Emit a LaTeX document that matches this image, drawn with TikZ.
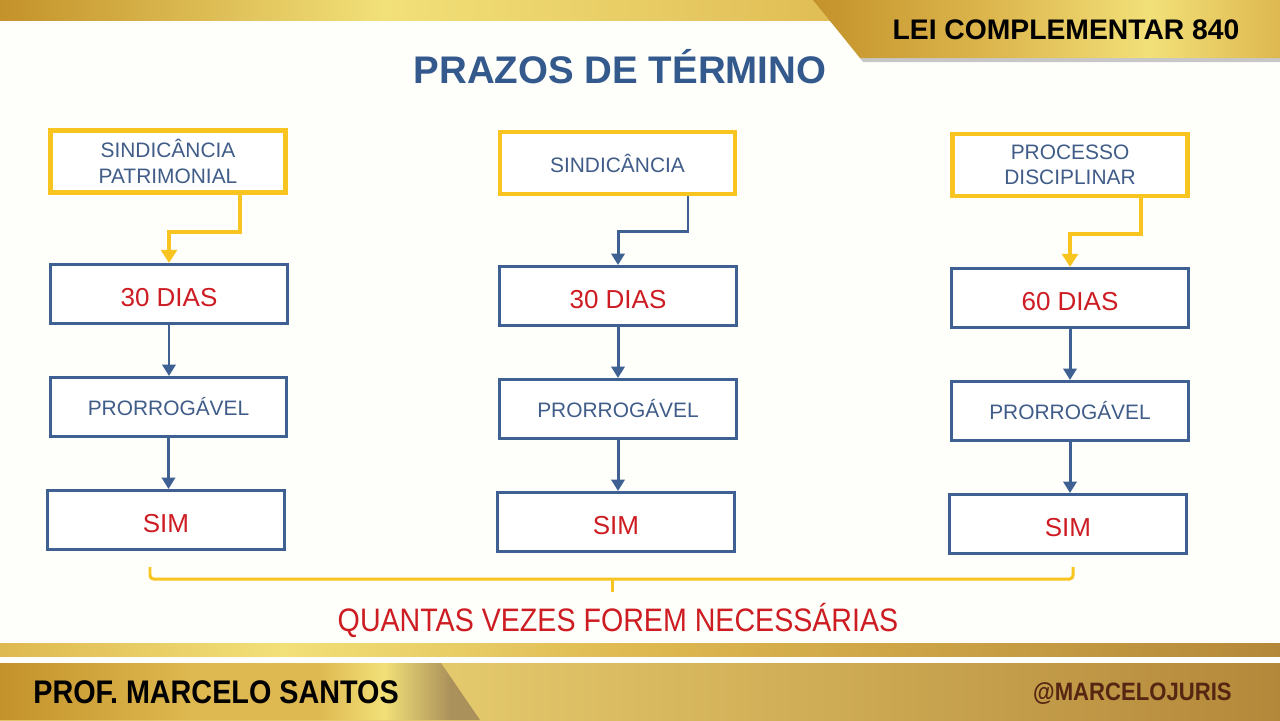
\documentclass[tikz,border=0pt]{standalone}
\usepackage{fontspec}
\setmainfont{Liberation Sans}
\newfontfamily\narrowsans[FakeStretch=0.88]{Liberation Sans}
\usetikzlibrary{arrows.meta,positioning}
\definecolor{boxblue}{RGB}{63,96,146}
\definecolor{textblue}{RGB}{64,92,136}
\definecolor{titleblue}{RGB}{52,89,140}
\definecolor{dayred}{RGB}{205,28,34}
\definecolor{linkyellow}{RGB}{248,196,32}
\definecolor{golddark}{RGB}{196,146,42}
\definecolor{goldmid}{RGB}{222,184,80}
\definecolor{goldlight}{RGB}{242,224,120}
\definecolor{goldpale}{RGB}{232,206,112}
\definecolor{goldbrown}{RGB}{180,136,58}
\definecolor{goldgrey}{RGB}{170,144,90}
\definecolor{handlebrown}{RGB}{85,38,18}
\definecolor{paper}{RGB}{254,254,251}

% gold shadings (path box maps to 25bp--75bp)
\pgfdeclarehorizontalshading{bandtop}{100bp}{color(0bp)=(golddark); color(25bp)=(golddark);
  color(40bp)=(goldlight); color(60bp)=(goldmid); color(75bp)=(golddark); color(100bp)=(golddark)}
\pgfdeclarehorizontalshading{bannertop}{100bp}{color(0bp)=(golddark); color(25bp)=(golddark);
  color(45bp)=(goldmid); color(61bp)=(goldlight); color(75bp)=(goldmid); color(100bp)=(goldmid)}
\pgfdeclarehorizontalshading{bandbottom}{100bp}{color(0bp)=(goldmid); color(25bp)=(goldmid);
  color(36bp)=(goldlight); color(50bp)=(goldmid); color(75bp)=(goldbrown); color(100bp)=(goldbrown)}
\pgfdeclarehorizontalshading{bannerleft}{100bp}{color(0bp)=(golddark); color(25bp)=(golddark);
  color(45bp)=(goldmid); color(58bp)=(goldmid); color(65bp)=(goldlight); color(72bp)=(goldgrey); color(100bp)=(goldgrey)}
\pgfdeclarehorizontalshading{panelright}{100bp}{color(0bp)=(goldpale); color(40bp)=(goldpale);
  color(75bp)=(goldbrown); color(100bp)=(goldbrown)}

\begin{document}
\begin{tikzpicture}[x=0.02cm, y=-0.02cm,
    every node/.style={font=\fontsize{11.9}{14.5}\selectfont, align=center},
    plain/.style={inner sep=0pt},
    headbox/.style={draw=linkyellow, line width=2.8pt, fill=white, text=textblue,
      minimum width=4.7cm, minimum height=1.24cm},
    bluebox/.style={draw=boxblue, line width=1.7pt, fill=white, text=textblue,
      minimum width=4.74cm, minimum height=1.18cm},
    daybox/.style={bluebox, text=dayred, font=\fontsize{14.8}{17}\selectfont,
      text height=14pt, text depth=0pt},
    ylink/.style={draw=linkyellow, line width=2.3pt, -{Triangle[width=9pt,length=7.5pt]}},
    blink/.style={draw=boxblue, line width=1.7pt, -{Triangle[width=7.5pt,length=6.5pt]}}]
  \useasboundingbox (0,0) rectangle (1280,720);

  % page and gold bands
  \fill[paper] (0,0) rectangle (1280,720);
  \shade[shading=bandtop] (0,0) rectangle (1280,20);
  \fill[black!22] (816,0) -- (1280,0) -- (1280,62) -- (863,62) -- cycle;
  \shade[shading=bannertop] (813,0) -- (1280,0) -- (1280,58) -- (860,58) -- cycle;
  \shade[shading=bandbottom] (0,643) rectangle (1280,656);
  \shade[shading=panelright] (0,663) rectangle (1280,720);
  \shade[shading=bannerleft] (0,663) -- (441,663) -- (480,720) -- (0,720) -- cycle;

  \node[plain, anchor=base, font=\bfseries\fontsize{16.1}{19}\selectfont] (law) at (1066,39) {LEI COMPLEMENTAR 840};
  \node[plain, anchor=base west, font=\narrowsans\bfseries\fontsize{18.6}{21}\selectfont] (prof) at (33,703) {PROF. MARCELO SANTOS};
  \node[plain, anchor=base east, text=handlebrown, font=\narrowsans\bfseries\fontsize{14.3}{17}\selectfont] (handle) at (1232,700) {@MARCELOJURIS};
  \node[plain, anchor=base, text=titleblue, font=\bfseries\fontsize{21.9}{24}\selectfont] (title) at (620,83) {PRAZOS DE TÉRMINO};

  % three columns
  \node[headbox] (head1) at (168,161.5) {SINDICÂNCIA\\PATRIMONIAL};
  \node[headbox] (head2) at (617.5,163) {SINDICÂNCIA};
  \node[headbox] (head3) at (1070,165) {PROCESSO\\DISCIPLINAR};

  \node[daybox] (day1) at (169,294) {30 DIAS};
  \node[daybox] (day2) at (618,296) {30 DIAS};
  \node[daybox] (day3) at (1070,298) {60 DIAS};

  \node[bluebox] (ext1) at (168.5,407) {PRORROGÁVEL};
  \node[bluebox] (ext2) at (618,409) {PRORROGÁVEL};
  \node[bluebox] (ext3) at (1070,411) {PRORROGÁVEL};

  \node[daybox] (sim1) at (166,520) {SIM};
  \node[daybox] (sim2) at (616,522) {SIM};
  \node[daybox] (sim3) at (1068,524) {SIM};

  \draw[ylink] ([xshift=1.44cm]head1.south) -- ++(0,37) -| (day1.north);
  \draw[blink] ([xshift=1.41cm]head2.south) -- ++(0,35) -| (day2.north);
  \draw[ylink] ([xshift=1.42cm]head3.south) -- ++(0,36) -| (day3.north);

  \foreach \i in {1,2,3} {
    \draw[blink] (day\i.south) -- (day\i.south |- ext\i.north);
    \draw[blink] (ext\i.south) -- (ext\i.south |- sim\i.north);
  }

  % brace under the columns
  \draw[linkyellow, line width=1.7pt, rounded corners=2pt]
    (150,567) -- (150,579) -- (1073,579) -- (1073,567);
  \draw[linkyellow, line width=1.7pt] (612,579) -- (612,592);
  \node[plain, anchor=base, text=dayred, font=\narrowsans\fontsize{18.5}{21}\selectfont] (note) at (618,631)
    {QUANTAS VEZES FOREM NECESSÁRIAS};
\end{tikzpicture}
\end{document}
